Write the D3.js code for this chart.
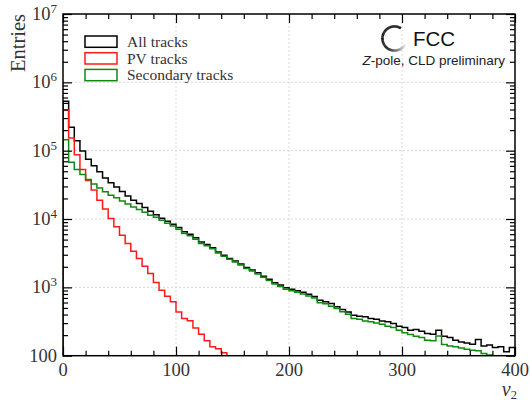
<!DOCTYPE html>
<html>
<head>
<meta charset="utf-8">
<script src="https://cdn.jsdelivr.net/npm/d3@7"></script>
<style>
  body { margin: 0; background: #fff; }
  svg { display: block; }
</style>
</head>
<body>
<svg id="chart" width="530" height="400"></svg>
<script>
// Histogram of v2: 80 bins of width 5 from 0 to 400
const binWidth = 5;

// All tracks, one entry per bin (0-5, 5-10, ...)
const allTracks = [
  530000, 220000, 140000, 99000, 75000, 60000, 49000, 40000, 34000, 29500,
  25200, 21700, 18800, 16800, 14800, 13000, 11500, 10300, 9300, 8400,
  7500, 6500, 6000, 5300, 4600, 4250, 3800, 3300, 2960, 2650,
  2440, 2190, 1950, 1790, 1630, 1460, 1310, 1170, 1080, 985,
  942, 890, 850, 790, 735, 650, 614, 580, 519, 474,
  437, 391, 378, 370, 351, 342, 323, 313, 296, 270,
  258, 236, 242, 228, 211, 206, 236, 193, 185, 169,
  158, 154, 147, 173, 139, 143, 132, 135, 114, 132
];

// Tracks from the primary vertex (falls below 100 entries after 145)
const pvTracks = [
  395000, 153000, 87000, 53000, 36500, 26500, 18900, 14000, 10200, 7700,
  5800, 4400, 3390, 2650, 2040, 1600, 1180, 910, 743, 614,
  437, 351, 324, 255, 206, 165, 135, 126, 110
];

// Secondary tracks (falls below 100 entries after 380)
const secondaryTracks = [
  145000, 68000, 53000, 45000, 38000, 32500, 28500, 25000, 22200, 20500,
  18400, 16600, 15000, 13800, 12600, 11400, 10600, 9600, 8700, 7900,
  7100, 6150, 5680, 5050, 4400, 4080, 3660, 3170, 2850, 2570,
  2360, 2120, 1880, 1730, 1570, 1400, 1260, 1120, 1030, 940,
  895, 845, 800, 745, 700, 593, 575, 531, 491, 438,
  405, 351, 342, 323, 313, 302, 289, 270, 258, 236,
  216, 204, 193, 185, 169, 165, 195, 146, 139, 135,
  130, 124, 120, 118, 108, 102
];

const xMajorTicks = [0, 100, 200, 300, 400];
const xMinorTicks = d3.range(0, 401, 20).filter(v => v % 100 !== 0);
const yDecades = [100, 1e3, 1e4, 1e5, 1e6, 1e7];
const yDecadeLabels = [["100", null], ["10", "3"], ["10", "4"], ["10", "5"], ["10", "6"], ["10", "7"]];
const yMinorTicks = [];
for (let e = 2; e < 7; e++) for (let m = 2; m <= 9; m++) yMinorTicks.push(m * Math.pow(10, e));

const series = [
  { name: "All tracks", values: allTracks, color: "#000000" },
  { name: "PV tracks", values: pvTracks, color: "#ff1a1a" },
  { name: "Secondary tracks", values: secondaryTracks, color: "#118811" }
];

const plot = { left: 63, right: 515, top: 14, bottom: 355.7 };
const svg = d3.select("#chart");

const x = d3.scaleLinear().domain([0, 400]).range([plot.left, plot.right]);
const y = d3.scaleLog().domain([100, 1e7]).range([plot.bottom, plot.top]);

// clip region for the histogram lines
svg.append("defs").append("clipPath").attr("id", "plotClip")
  .append("rect")
  .attr("x", plot.left).attr("y", plot.top)
  .attr("width", plot.right - plot.left).attr("height", plot.bottom - plot.top);

// dashed grid at the major ticks
const grid = svg.append("g").attr("stroke", "#cfcfcf").attr("stroke-width", 0.8).attr("stroke-dasharray", "2,2");
xMajorTicks.slice(1, -1).forEach(v => {
  grid.append("line").attr("x1", x(v)).attr("x2", x(v)).attr("y1", plot.top).attr("y2", plot.bottom);
});
yDecades.slice(1, -1).forEach(v => {
  grid.append("line").attr("x1", plot.left).attr("x2", plot.right).attr("y1", y(v)).attr("y2", y(v));
});

// step outline of a histogram
function stepPath(vals) {
  const base = y.domain()[0];
  let d = `M${x(0)},${y(base)}`;
  vals.forEach((v, i) => {
    d += `V${y(v)}H${x((i + 1) * binWidth)}`;
  });
  d += `V${y(base)}`;
  return d;
}

const lines = svg.append("g").attr("clip-path", "url(#plotClip)");
series.forEach(s => {
  lines.append("path")
    .attr("d", stepPath(s.values))
    .attr("fill", "none")
    .attr("stroke", s.color)
    .attr("stroke-width", 1.5)
    .attr("stroke-linejoin", "miter");
});

// axes: inward ticks on all four sides
function styleAxis(g) {
  g.select(".domain").remove();
  g.selectAll(".tick line").attr("stroke", "#000").attr("stroke-width", 1.2);
  g.selectAll(".tick text").remove();
}
const axes = [
  [d3.axisBottom, x, `translate(0,${plot.bottom})`],
  [d3.axisTop, x, `translate(0,${plot.top})`],
  [d3.axisLeft, y, `translate(${plot.left},0)`],
  [d3.axisRight, y, `translate(${plot.right},0)`]
];
axes.forEach(([fn, sc, tr]) => {
  const isX = sc === x;
  svg.append("g").attr("transform", tr)
    .call(fn(sc).tickValues(isX ? xMajorTicks : yDecades).tickSize(-9).tickFormat(""))
    .call(styleAxis);
  svg.append("g").attr("transform", tr)
    .call(fn(sc).tickValues(isX ? xMinorTicks : yMinorTicks).tickSize(-5).tickFormat(""))
    .call(styleAxis);
});

// frame
svg.append("rect")
  .attr("x", plot.left).attr("y", plot.top)
  .attr("width", plot.right - plot.left).attr("height", plot.bottom - plot.top)
  .attr("fill", "none").attr("stroke", "#000").attr("stroke-width", 1.5);

const serif = "'Liberation Serif', 'DejaVu Serif', serif";
const sans = "'Liberation Sans', 'DejaVu Sans', sans-serif";

// x tick labels
svg.append("g").selectAll("text").data(xMajorTicks).join("text")
  .attr("x", d => x(d)).attr("y", 375.5)
  .attr("text-anchor", "middle")
  .attr("font-family", serif).attr("font-size", 18.5).attr("fill", "#333")
  .text(d => d);

// y tick labels with exponents
const yl = svg.append("g").attr("font-family", serif).attr("fill", "#333");
yDecades.forEach((v, i) => {
  const [base, exp] = yDecadeLabels[i];
  const t = yl.append("text")
    .attr("x", 57).attr("y", y(v) + 6)
    .attr("text-anchor", "end").attr("font-size", 18.5);
  t.append("tspan").text(base);
  if (exp) t.append("tspan").attr("font-size", 13).attr("dy", -7).text(exp);
});

// axis titles
svg.append("text")
  .attr("transform", "translate(25,14) rotate(-90)")
  .attr("text-anchor", "end")
  .attr("font-family", serif).attr("font-size", 20.5).attr("fill", "#333")
  .text("Entries");

const xt = svg.append("text")
  .attr("x", 517).attr("y", 395.5)
  .attr("text-anchor", "end")
  .attr("font-family", serif).attr("fill", "#333");
xt.append("tspan").attr("font-size", 20).attr("font-style", "italic").text("v");
xt.append("tspan").attr("font-size", 12.5).attr("dy", 3).text("2");

// legend
const legend = svg.append("g");
series.forEach((s, i) => {
  const top = 36 + i * 16.7;
  legend.append("rect")
    .attr("x", 85).attr("y", top).attr("width", 32).attr("height", 11.3)
    .attr("fill", "none").attr("stroke", s.color).attr("stroke-width", 1.5);
  legend.append("text")
    .attr("x", 127).attr("y", top + 11)
    .attr("font-family", serif).attr("font-size", 15.5).attr("fill", "#333")
    .text(s.name);
});

// FCC logo: open ring fading out towards the lower right
const logo = svg.append("g").attr("transform", "translate(394.5,38.5)");
const ringArc = d3.arc().innerRadius(10.8).outerRadius(13.3);
const a0 = 32 * Math.PI / 180, a1 = a0 - 275 * Math.PI / 180;
const nSeg = 110;
const fade = d3.interpolateRgb("#000000", "#f4f4f4");
for (let k = 0; k < nSeg; k++) {
  const t0 = k / nSeg, t1 = (k + 1.2) / nSeg;
  const t = (k + 0.5) / nSeg;
  const c = t < 0.62 ? "#000" : fade(Math.pow((t - 0.62) / 0.38, 1.2));
  logo.append("path")
    .attr("d", ringArc({ startAngle: a0 + (a1 - a0) * Math.min(t1, 1), endAngle: a0 + (a1 - a0) * t0 }))
    .attr("fill", c);
}
svg.append("text")
  .attr("x", 413).attr("y", 46)
  .attr("font-family", sans).attr("font-size", 20.5)
  .attr("fill", "#111")
  .text("FCC");

const sub = svg.append("text")
  .attr("x", 505).attr("y", 65)
  .attr("text-anchor", "end")
  .attr("font-family", sans).attr("font-size", 13.5).attr("fill", "#222");
sub.append("tspan").attr("font-style", "italic").text("Z");
sub.append("tspan").text("-pole, CLD preliminary");
</script>
</body>
</html>
